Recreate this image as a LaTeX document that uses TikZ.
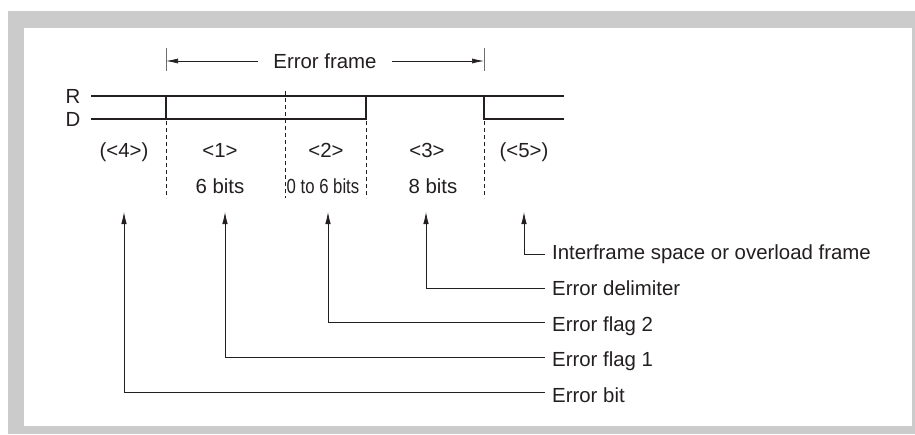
\documentclass[tikz,border=0pt]{standalone}
\usepackage{fontspec}
\usepackage{graphicx}
\setmainfont{Liberation Sans}
\usetikzlibrary{arrows.meta}
\definecolor{ink}{HTML}{231F20}
\definecolor{framegray}{HTML}{CBCBCB}
\definecolor{brgray}{HTML}{6E6E6E}
\begin{document}
\begin{tikzpicture}[x=1pt,y=-1pt,
  txt/.style={font=\fontsize{20.4}{24}\selectfont, text=ink, inner sep=0pt},
  lbl/.style={txt, anchor=base},
  rlabel/.style={txt, anchor=base west, inner xsep=7pt, inner ysep=0pt},
  signal/.style={draw=ink, line width=2.2pt, line cap=rect},
  dashline/.style={draw=ink, line width=0.8pt, dash pattern=on 4pt off 3pt},
  callout/.style={draw=ink, line width=0.8pt, -{Latex[length=12pt,width=5.5pt]}},
  frarrow/.style={draw=ink, line width=0.7pt, -{Latex[length=12pt,width=5pt]}},
  bracket/.style={draw=brgray, line width=0.8pt}]
\useasboundingbox (0,0) rectangle (915,434);
% frame
\fill[framegray] (8,11) rectangle (915,434);
\fill[white] (24,28) rectangle (912,426);

% error frame bracket
\coordinate (bl) at (166,61);
\coordinate (br) at (484,61);
\draw[bracket] (166,48) -- (166,71);
\draw[bracket] (484,48) -- (484,71);
\node[txt, inner xsep=15pt] (ef) at (325,61) {Error frame};
\draw[frarrow] (ef.west) -- (bl);
\draw[frarrow] (ef.east) -- (br);

% R / D labels
\node[txt, anchor=base east] (rl) at (80.5,103) {R};
\node[txt, anchor=base east] (dl) at (80.5,126) {D};

% signal
\draw[signal] (92,96) -- (563,96);
\draw[signal] (92,119) -- (366,119) -- (366,96);
\draw[signal] (166,96) -- (166,119);
\draw[signal] (484,96) -- (484,119) -- (563,119);

% dashed separators
\draw[dashline] (166,121) -- (166,198);
\draw[dashline] (285.5,91) -- (285.5,198);
\draw[dashline] (366,121) -- (366,198);
\draw[dashline] (484,121) -- (484,198);

% field labels
\node[lbl] (f4) at (124,157) {(<4>)};
\node[lbl] (f1) at (220,157) {<1>};
\node[lbl] (f2) at (326,157) {<2>};
\node[lbl] (f3) at (427,157) {<3>};
\node[lbl] (f5) at (524,157) {(<5>)};
\node[lbl] (b1) at (220,193) {6 bits};
\node[lbl] (b2) at (323,193) {\scalebox{0.82}[1]{0 to 6 bits}};
\node[lbl] (b3) at (433,193) {8 bits};

% callouts
\coordinate (t4) at (124,212);
\coordinate (t1) at (225,212);
\coordinate (t2) at (328,212);
\coordinate (t3) at (426,212);
\coordinate (t5) at (524,212);
\coordinate (c5) at (545,254);
\coordinate (c3) at (545,288);
\coordinate (c2) at (545,322);
\coordinate (c1) at (545,357);
\coordinate (c4) at (545,392);
\node[rlabel] (l5) at (545,259.5) {Interframe space or overload frame};
\node[rlabel] (l3) at (545,295) {Error delimiter};
\node[rlabel] (l2) at (545,331) {Error flag 2};
\node[rlabel] (l1) at (545,366.5) {Error flag 1};
\node[rlabel] (l4) at (545,402) {Error bit};
\draw[callout] (c5) -| (t5);
\draw[callout] (c3) -| (t3);
\draw[callout] (c2) -| (t2);
\draw[callout] (c1) -| (t1);
\draw[callout] (c4) -| (t4);
\end{tikzpicture}
\end{document}
